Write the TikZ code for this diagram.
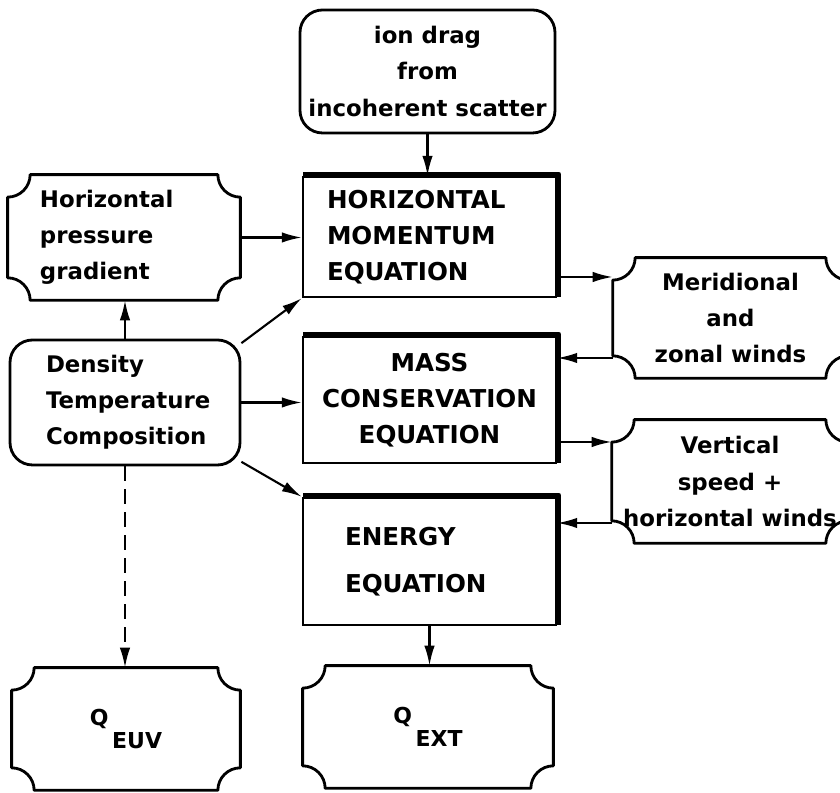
\documentclass[tikz,border=0pt]{standalone}
\usepackage{fontspec}
\setmainfont{DejaVu Sans}
\usetikzlibrary{arrows.meta, positioning, calc}

\newcommand{\cornr}{0.45cm}
\newcommand{\qlabel}[1]{{\fontsize{12.5}{14}\selectfont Q\,\raisebox{-0.45cm}{#1}}}

\begin{document}
\begin{tikzpicture}[
    font=\bfseries\fontsize{13}{20.5}\selectfont,
    every node/.style={inner sep=0pt},
    soft/.style={rectangle, draw, line width=1.6pt, rounded corners=0.45cm},
    eqn/.style={rectangle, draw, line width=1.4pt, minimum width=5.06cm, font=\bfseries\fontsize{14}{20.5}\selectfont},
    notch/.style={rectangle},
    link/.style={line width=1.2pt, -{Latex[length=4mm, width=2.1mm]}}
  ]
  \useasboundingbox (0,0) rectangle (16.8,15.86);

  % central column
  \node[soft, minimum width=5.10cm, minimum height=2.46cm, align=center] (drag) at (8.55,14.43) {ion drag\\from\\incoherent scatter};
  \node[eqn, minimum height=2.40cm, align=left, text width=4.10cm, inner xsep=0.48cm] (hmom) at (8.59,11.12) {HORIZONTAL\\MOMENTUM\\EQUATION};
  \node[eqn, minimum height=2.52cm, align=center] (mass) at (8.59,7.86) {MASS\\CONSERVATION\\EQUATION};
  \node[eqn, minimum height=2.54cm, align=left, text width=3.38cm, inner xsep=0.84cm] (energy) at (8.59,4.63) {ENERGY\\[6pt]EQUATION};

  % left column
  \node[notch, minimum width=4.64cm, minimum height=2.50cm, align=left, text width=3.36cm, inner xsep=0.64cm] (press) at (2.48,11.11) {Horizontal\\pressure\\gradient};
  \node[soft, minimum width=4.60cm, minimum height=2.50cm, align=left, text width=3.16cm, inner xsep=0.72cm] (dens) at (2.50,7.81) {Density\\Temperature\\Composition};

  % right column
  \node[notch, minimum width=4.70cm, minimum height=2.40cm, align=center] (merid) at (14.61,9.50) {Meridional\\and\\zonal winds};
  \node[notch, minimum width=4.72cm, minimum height=2.46cm, align=center] (vert) at (14.60,6.23) {Vertical\\speed +\\horizontal winds};

  % bottom row
  \node[notch, minimum width=4.56cm, minimum height=2.44cm] (euv) at (2.52,1.28) {\qlabel{EUV}};
  \node[notch, minimum width=5.00cm, minimum height=2.44cm] (ext) at (8.56,1.32) {\qlabel{EXT}};

  % boxes with hollow corners
  \foreach \n in {press, merid, vert, euv, ext}
    \draw[line width=1.6pt, line join=round]
      ([xshift=\cornr]\n.north west) -- ([xshift=-\cornr]\n.north east)
      arc[start angle=180, end angle=270, radius=\cornr] -- ([yshift=\cornr]\n.south east)
      arc[start angle=90, end angle=180, radius=\cornr] -- ([xshift=\cornr]\n.south west)
      arc[start angle=0, end angle=90, radius=\cornr] -- ([yshift=-\cornr]\n.north west)
      arc[start angle=270, end angle=360, radius=\cornr] -- cycle;

  % heavy top and right edges
  \foreach \n in {hmom, mass, energy}
    \draw[line width=3pt, line join=round]
      ([shift={(0.03,0.03)}]\n.north west) -- ([shift={(0.03,0.03)}]\n.north east)
      -- ([shift={(0.03,0.03)}]\n.south east);

  \draw[link] (drag.south) -- (drag.south |- hmom.north);
  \draw[link] (press.east) -- (press.east -| hmom.west);
  \draw[link] (dens.north) -- (dens.north |- press.south);
  \draw[link] (dens.27) -- (hmom.south west);
  \draw[link] (dens.east) -- (dens.east -| mass.west);
  \draw[link] (dens.-27) -- (energy.north west);
  \draw[link, dash pattern=on 0.3cm off 0.16cm] (dens.south) -- (dens.south |- euv.north);
  \draw[link] (energy.south) -- (energy.south |- ext.north);

  \draw[link] ([yshift=-0.80cm]hmom.east) -- ([yshift=-0.80cm]hmom.east -| merid.west);
  \draw[link] ([yshift=0.84cm]mass.east -| merid.west) -- ([yshift=0.84cm]mass.east);
  \draw[link] ([yshift=-0.84cm]mass.east) -- ([yshift=-0.84cm]mass.east -| vert.west);
  \draw[link] ([yshift=0.77cm]energy.east -| vert.west) -- ([yshift=0.77cm]energy.east);
\end{tikzpicture}
\end{document}
